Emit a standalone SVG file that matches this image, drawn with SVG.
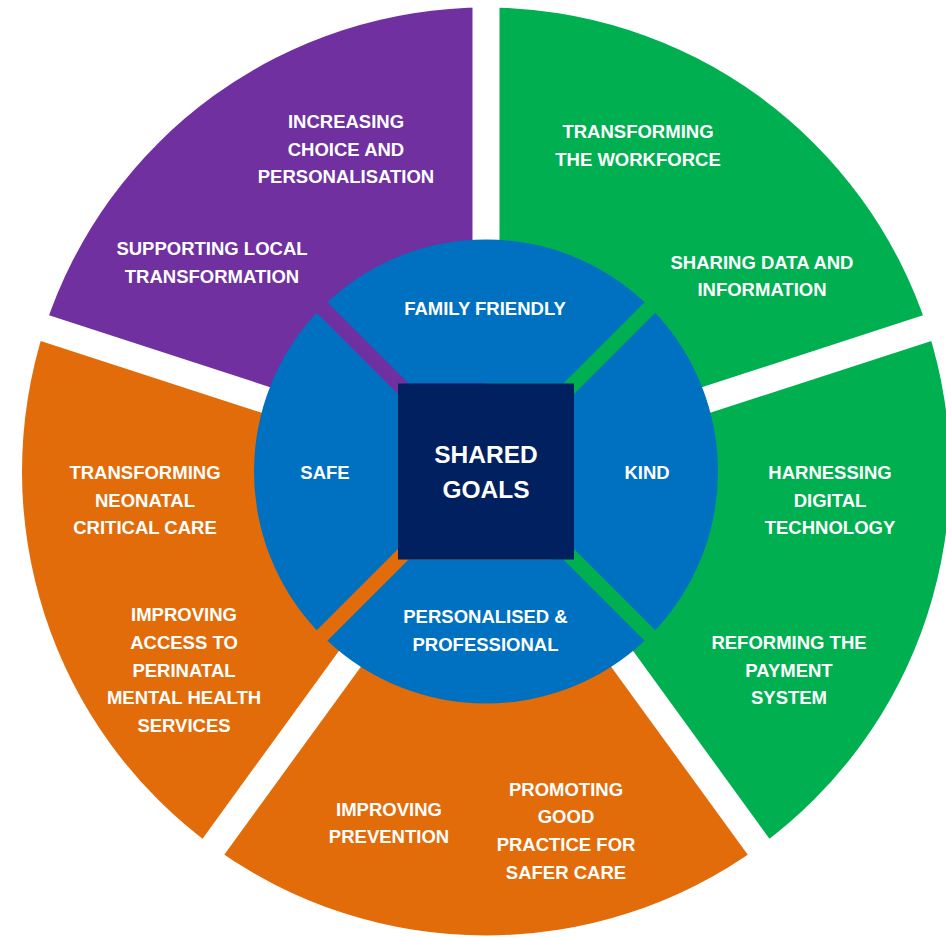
<svg xmlns="http://www.w3.org/2000/svg" width="946" height="937" viewBox="0 0 946 937">
  <style>
    .lbl { font-family: "Liberation Sans", Arial, sans-serif; font-weight: bold; font-size: 18.5px; fill: #ffffff; text-anchor: middle; }
    .core { font-family: "Liberation Sans", Arial, sans-serif; font-weight: bold; font-size: 24.5px; fill: #ffffff; text-anchor: middle; }
    .purple { fill: #7030A0; }
    .green { fill: #00B050; }
    .orange { fill: #E36C0A; }
    .blue { fill: #0070C0; }
    .navy { fill: #002060; }
    .gap { stroke: #ffffff; stroke-width: 27; stroke-linecap: butt; fill: none; }
  </style>
  <rect x="0" y="0" width="946" height="937" fill="#ffffff"/>

  <!-- Outer ring segments -->
  <g id="seg-purple">
    <path class="purple" d="M 486 471.5 L 486 7.5 A 464 464 0 0 0 44.71 328.12 Z"/>
  </g>
  <g id="seg-orange-left">
    <path class="orange" d="M 486 471.5 L 44.71 328.12 A 464 464 0 0 0 213.27 846.88 Z"/>
  </g>
  <g id="seg-orange-bottom">
    <path class="orange" d="M 486 471.5 L 213.27 846.88 A 464 464 0 0 0 758.73 846.88 Z"/>
  </g>
  <g id="seg-green-right">
    <path class="green" d="M 486 471.5 L 758.73 846.88 A 464 464 0 0 0 927.29 328.12 Z"/>
  </g>
  <g id="seg-green-top">
    <path class="green" d="M 486 471.5 L 927.29 328.12 A 464 464 0 0 0 486 7.5 Z"/>
  </g>

  <!-- White separators between ring segments -->
  <g id="separators">
    <line class="gap" x1="486" y1="251.5" x2="486" y2="-8.5"/>
    <line class="gap" x1="276.77" y1="403.52" x2="29.49" y2="323.17"/>
    <line class="gap" x1="356.69" y1="649.48" x2="203.86" y2="859.83"/>
    <line class="gap" x1="615.31" y1="649.48" x2="768.14" y2="859.83"/>
    <line class="gap" x1="695.23" y1="403.52" x2="942.51" y2="323.17"/>
  </g>

  <!-- Inner blue quadrants -->
  <g id="q-family-friendly">
    <path class="blue" d="M 408.6 383.5 L 327.34 302.23 A 232 232 0 0 1 644.66 302.23 L 563.4 383.5 Z"/>
    <text class="lbl" x="485" y="314.5">FAMILY FRIENDLY</text>
  </g>
  <g id="q-kind">
    <path class="blue" d="M 574 394.1 L 655.27 312.84 A 232 232 0 0 1 655.27 630.16 L 574 548.9 Z"/>
    <text class="lbl" x="647" y="479">KIND</text>
  </g>
  <g id="q-personalised">
    <path class="blue" d="M 563.4 559.5 L 644.66 640.77 A 232 232 0 0 1 327.34 640.77 L 408.6 559.5 Z"/>
    <text class="lbl" x="485.5" y="623">PERSONALISED &amp;</text>
    <text class="lbl" x="485.5" y="650.5">PROFESSIONAL</text>
  </g>
  <g id="q-safe">
    <path class="blue" d="M 398 548.9 L 316.73 630.16 A 232 232 0 0 1 316.73 312.84 L 398 394.1 Z"/>
    <text class="lbl" x="325" y="479">SAFE</text>
  </g>

  <!-- Centre -->
  <g id="shared-goals">
    <rect class="navy" x="398" y="383.5" width="176" height="176"/>
    <text class="core" x="486" y="463">SHARED</text>
    <text class="core" x="486" y="498">GOALS</text>
  </g>

  <!-- Ring labels -->
  <g id="lbl-purple">
    <text class="lbl" x="346" y="128">INCREASING</text>
    <text class="lbl" x="346" y="155.5">CHOICE AND</text>
    <text class="lbl" x="346" y="182.5">PERSONALISATION</text>
    <text class="lbl" x="212" y="255">SUPPORTING LOCAL</text>
    <text class="lbl" x="212" y="283">TRANSFORMATION</text>
  </g>
  <g id="lbl-green-top">
    <text class="lbl" x="638" y="138">TRANSFORMING</text>
    <text class="lbl" x="638" y="165.5">THE WORKFORCE</text>
    <text class="lbl" x="762" y="269">SHARING DATA AND</text>
    <text class="lbl" x="762" y="296">INFORMATION</text>
  </g>
  <g id="lbl-green-right">
    <text class="lbl" x="830" y="479">HARNESSING</text>
    <text class="lbl" x="830" y="506.5">DIGITAL</text>
    <text class="lbl" x="830" y="534">TECHNOLOGY</text>
    <text class="lbl" x="789" y="649">REFORMING THE</text>
    <text class="lbl" x="789" y="677">PAYMENT</text>
    <text class="lbl" x="789" y="704">SYSTEM</text>
  </g>
  <g id="lbl-orange-bottom">
    <text class="lbl" x="389" y="815.5">IMPROVING</text>
    <text class="lbl" x="389" y="842.5">PREVENTION</text>
    <text class="lbl" x="566" y="796">PROMOTING</text>
    <text class="lbl" x="566" y="823">GOOD</text>
    <text class="lbl" x="566" y="851">PRACTICE FOR</text>
    <text class="lbl" x="566" y="878.5">SAFER CARE</text>
  </g>
  <g id="lbl-orange-left">
    <text class="lbl" x="145" y="479">TRANSFORMING</text>
    <text class="lbl" x="145" y="506.5">NEONATAL</text>
    <text class="lbl" x="145" y="534">CRITICAL CARE</text>
    <text class="lbl" x="184" y="621">IMPROVING</text>
    <text class="lbl" x="184" y="649">ACCESS TO</text>
    <text class="lbl" x="184" y="677">PERINATAL</text>
    <text class="lbl" x="184" y="704">MENTAL HEALTH</text>
    <text class="lbl" x="184" y="731.5">SERVICES</text>
  </g>
</svg>
